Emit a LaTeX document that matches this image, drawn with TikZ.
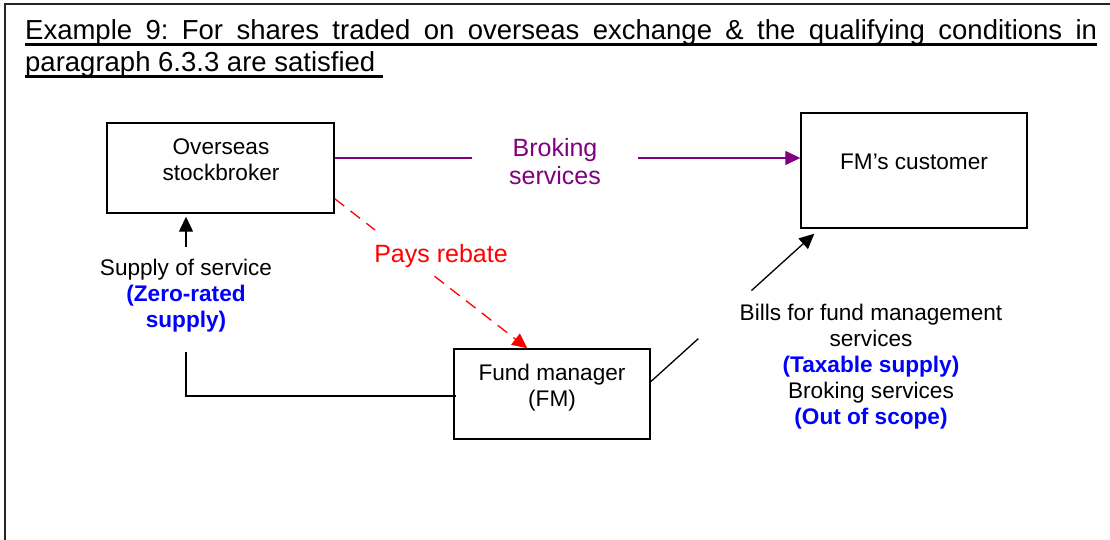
\documentclass[tikz,border=0pt]{standalone}
\usepackage{fontspec}
\setmainfont{Liberation Sans}
\usetikzlibrary{arrows.meta,calc}

\definecolor{brokpurple}{RGB}{128,0,128}
\definecolor{taxblue}{RGB}{0,0,255}
\definecolor{rebatered}{RGB}{255,0,0}

\tikzset{
  party/.style={draw=black, line width=1.4pt, inner sep=0pt},
  txt/.style={inner sep=0pt, anchor=base, font=\fontsize{22.6}{26}\selectfont},
  bigtxt/.style={inner sep=0pt, anchor=base, font=\fontsize{25}{28}\selectfont},
  note/.style={txt, text=taxblue, font=\fontsize{22.6}{26}\selectfont\bfseries},
  headline/.style={inner sep=0pt, anchor=base west, font=\fontsize{27.5}{32}\selectfont},
  flow/.style={line width=1.3pt, -{Triangle[length=15pt,width=14pt]}},
  plainline/.style={line width=1.3pt},
}

\begin{document}
\frenchspacing
\begin{tikzpicture}[x=1pt, y=-1pt]
\useasboundingbox (0,0) rectangle (1110,540);

% frame (top and left rules)
\draw[line width=2pt, black!85] (5,540) -- (5,4) -- (1110,4);

% heading
\node[headline] (h1) at (25,39.5)
  {\makebox[1072pt][s]{Example 9: For shares traded on overseas exchange \& the qualifying conditions in}};
\node[headline] (h2) at (25,71.5) {paragraph 6.3.3 are satisfied};
\draw[line width=2.3pt] (25,44.5) -- (1097,44.5);
\draw[line width=2.3pt] (25,76.5) -- (383,76.5);

% parties
\node[party, minimum width=227pt, minimum height=90pt] (osb) at (220.5,168) {};
\node[party, minimum width=226pt, minimum height=115pt] (cust) at (914,170.5) {};
\node[party, minimum width=196pt, minimum height=90pt] (fm) at (552,394) {};

\node[txt] (osb1) at (221,155) {Overseas};
\node[txt] (osb2) at (221,181) {stockbroker};
\node[txt] (cust1) at (914,170) {FM’s customer};
\node[txt] (fm1) at (552,380) {Fund manager};
\node[txt] (fm2) at (552,406) {(FM)};

% broking services: stockbroker -> customer
\coordinate (bkA) at ([yshift=10pt]osb.east);
\coordinate (bkB) at (cust.west |- bkA);
\draw[plainline, brokpurple] (bkA) -- ($(bkA)!0.2955!(bkB)$);
\draw[flow, brokpurple] ($(bkA)!0.651!(bkB)$) -- (bkB);
\node[bigtxt, text=brokpurple] (bk1) at (555,157) {Broking};
\node[bigtxt, text=brokpurple] (bk2) at (555,185) {services};

% rebate: stockbroker -> fund manager
\coordinate (rbA) at ([yshift=15pt]osb.south east);
\coordinate (rbB) at ([xshift=74pt]fm.north west);
\draw[plainline, rebatered, dash pattern=on 12pt off 8pt] (rbA) -- ($(rbA)!0.21!(rbB)$);
\draw[flow, rebatered, dash pattern=on 12pt off 8pt] ($(rbA)!0.518!(rbB)$) -- (rbB);
\node[bigtxt, text=rebatered] (rb) at (441,262.5) {Pays rebate};

% supply of service: fund manager -> stockbroker
\coordinate (upTip) at ([xshift=-34.5pt,yshift=-3pt]osb.south);
\coordinate (upTail) at ([yshift=-30pt]upTip);
\draw[flow] (upTail) -- (upTip);
\node[txt] (sup1) at (186,275.5) {Supply of service};
\node[note] (sup2) at (186,301.5) {(Zero-rated};
\node[note] (sup3) at (186,327.5) {supply)};
\coordinate (lTop) at (186,352);
\draw[plainline] (lTop) |- ([xshift=3pt,yshift=-2pt]fm.west);

% bills: fund manager -> customer
\coordinate (blA) at ([yshift=12.3pt]fm.east);
\coordinate (blB) at ([xshift=14pt,yshift=-5pt]cust.south west);
\draw[plainline] (blA) -- ($(blA)!0.291!(blB)$);
\draw[flow] ($(blA)!0.616!(blB)$) -- (blB);
\node[txt] (bl1) at (871,320) {Bills for fund management};
\node[txt] (bl2) at (871,346) {services};
\node[note] (bl3) at (871,372) {(Taxable supply)};
\node[txt] (bl4) at (871,398) {Broking services};
\node[note] (bl5) at (871,424) {(Out of scope)};
\end{tikzpicture}
\end{document}
